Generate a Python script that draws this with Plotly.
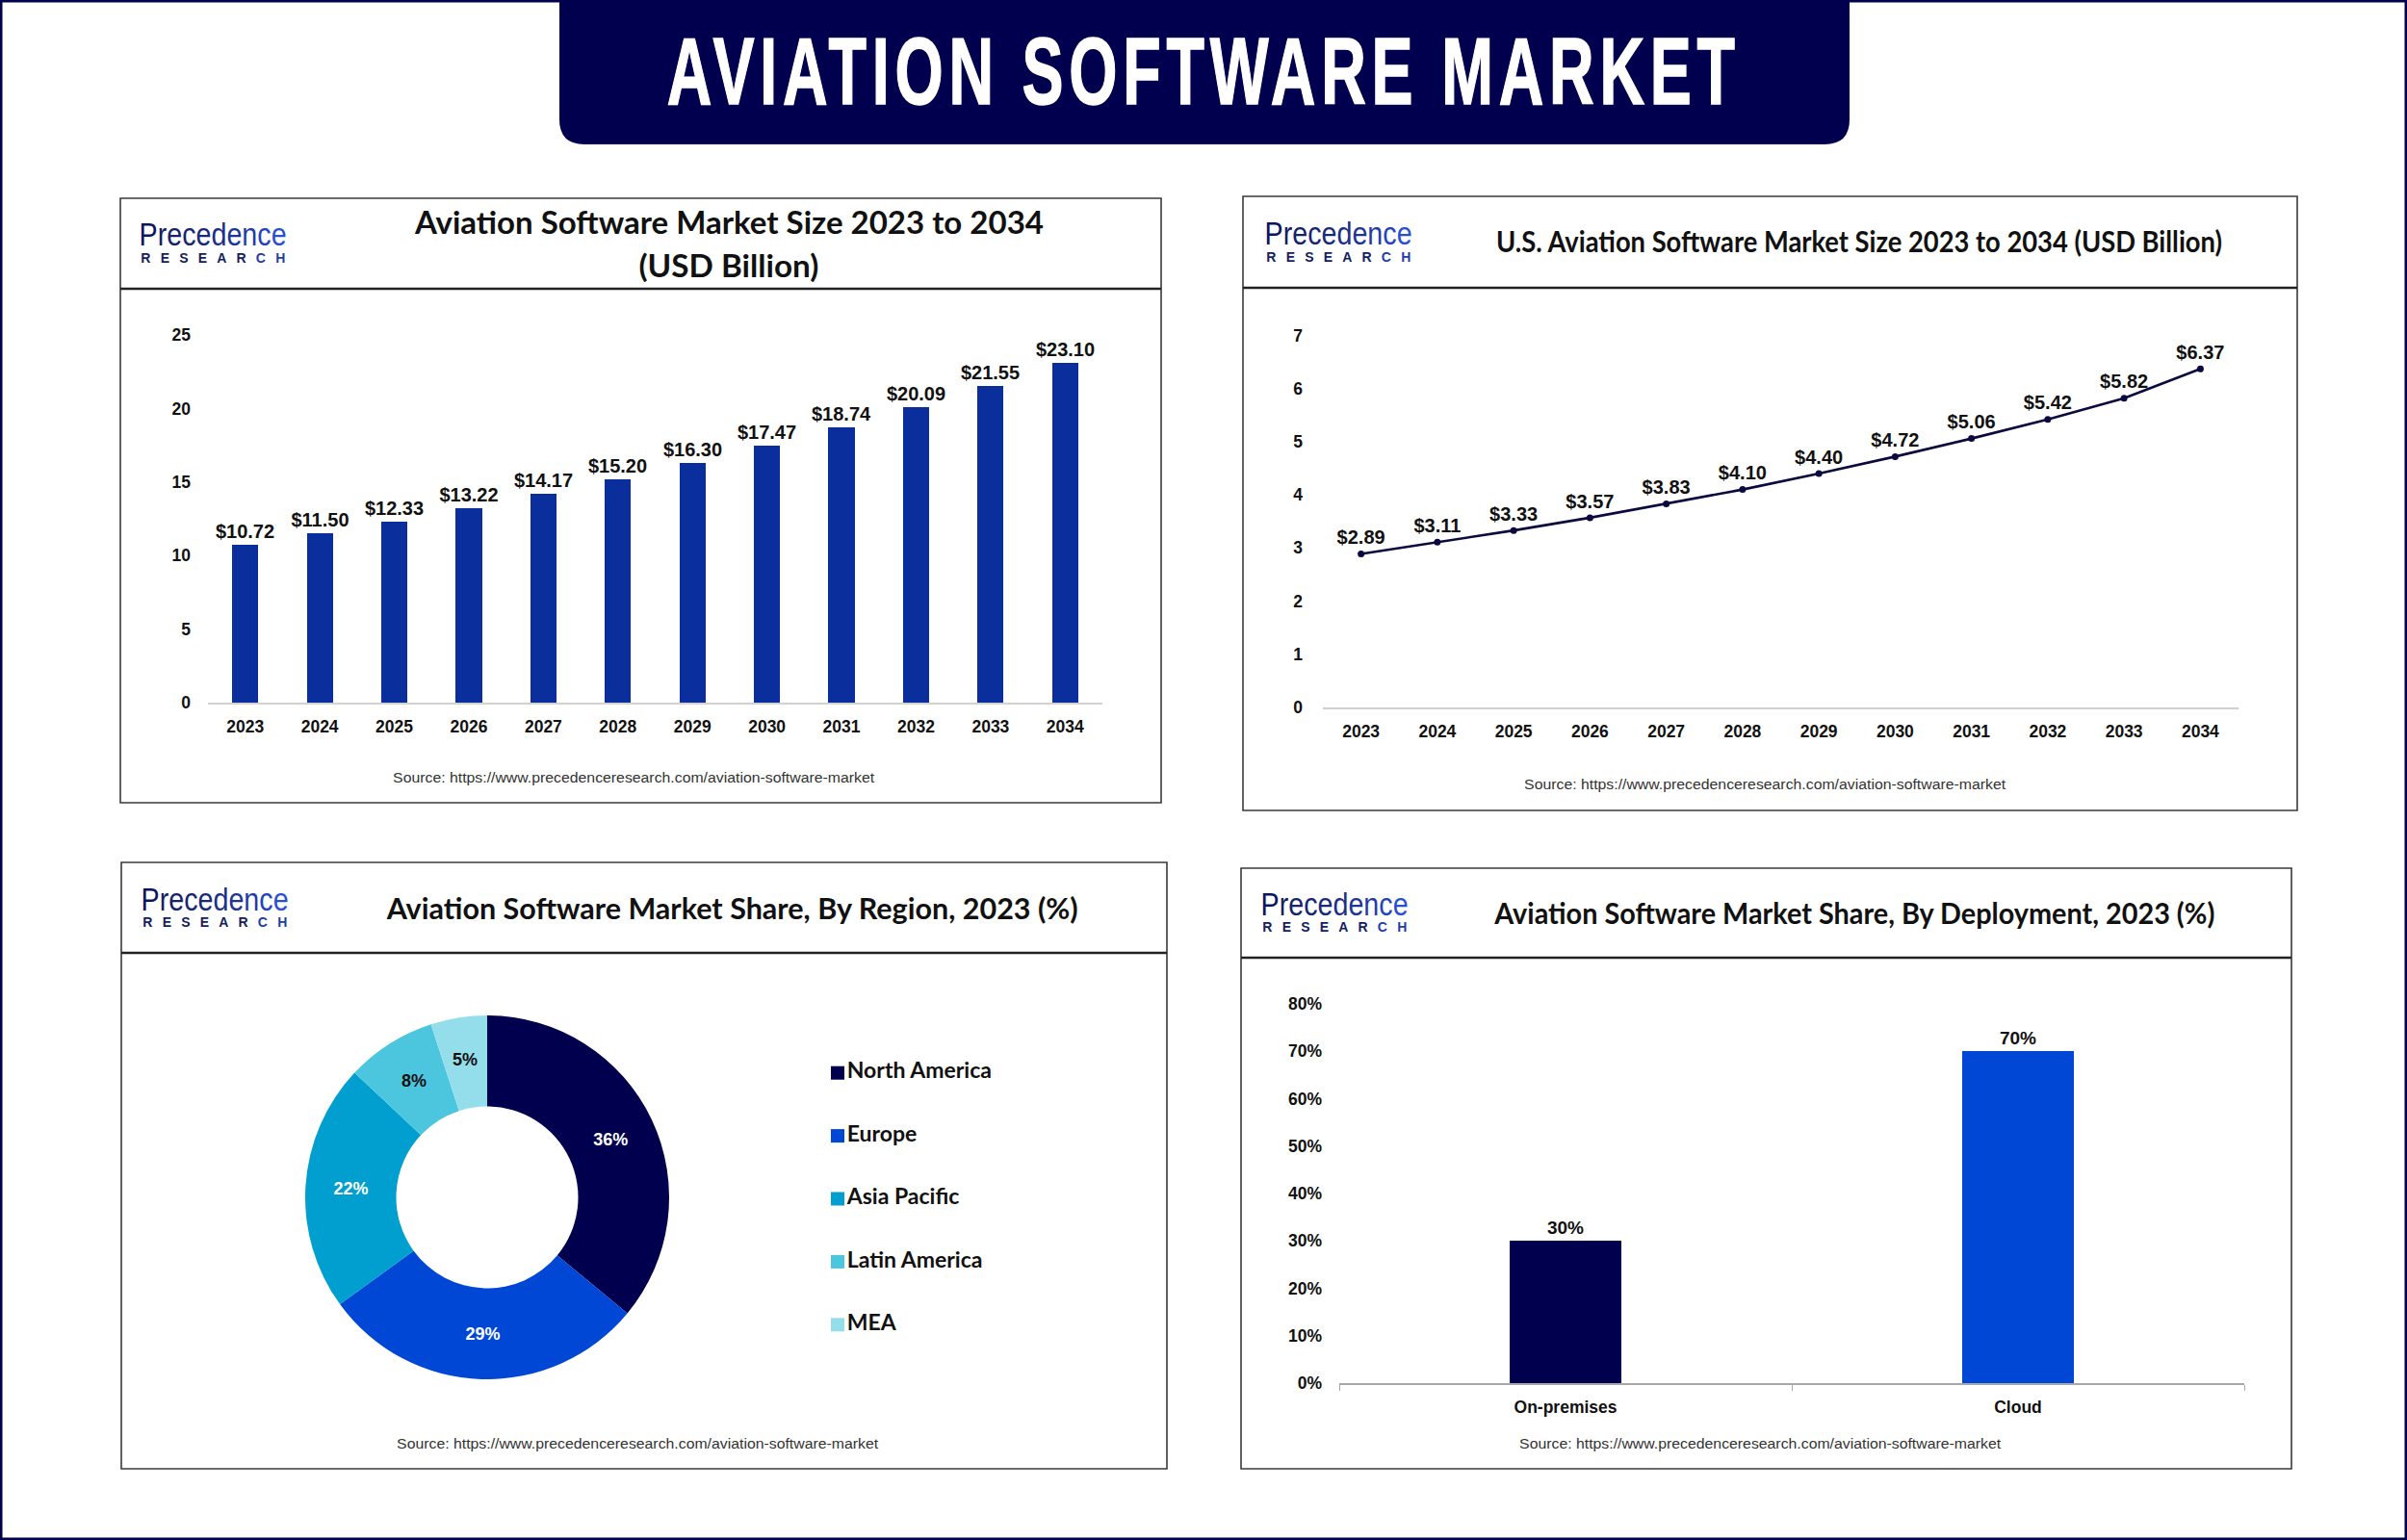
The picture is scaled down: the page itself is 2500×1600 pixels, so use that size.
import json
import plotly.graph_objects as go

# ---------- data ----------
years = ["2023", "2024", "2025", "2026", "2027", "2028", "2029", "2030", "2031", "2032", "2033", "2034"]
global_size = [10.72, 11.50, 12.33, 13.22, 14.17, 15.20, 16.30, 17.47, 18.74, 20.09, 21.55, 23.10]
us_size = [2.89, 3.11, 3.33, 3.57, 3.83, 4.10, 4.40, 4.72, 5.06, 5.42, 5.82, 6.37]
regions = ["North America", "Europe", "Asia Pacific", "Latin America", "MEA"]
region_share = [36, 29, 22, 8, 5]
deployments = ["On-premises", "Cloud"]
deployment_share = [30, 70]

MAIN_TITLE = "AVIATION SOFTWARE MARKET"
SOURCE = "Source: https://www.precedenceresearch.com/aviation-software-market"

# ---------- style ----------
W, H = 2500, 1600
NAVY = "#00004f"
BLUE = "#0047d6"
BAR = "#0a2f9c"
REGION_COLORS = [NAVY, BLUE, "#009fcf", "#4cc6df", "#94deeb"]
INK = "#111111"
SANS = "Liberation Sans"
TITLE_FONT = "Lato"
LOGO_COLORS = ["#0a1560", "#141f64", "#15226c", "#172672", "#182a7a", "#1a2f88", "#1c3596", "#1f3ca8", "#2444bc", "#2a4fd0"]
LOGO_WORD = "Precedence"


def fx(px):
    return px / W


def fy(py):
    return 1 - py / H


fig = go.Figure()
shapes, annos = [], []


def text(x, y, s, size, family=SANS, color=INK, bold=True):
    annos.append(dict(xref="paper", yref="paper", x=fx(x), y=fy(y), text=f"<b>{s}</b>" if bold else s,
                      showarrow=False, xanchor="center", yanchor="middle",
                      font=dict(family=family, size=size, color=color)))


def panel(x0, y0, x1, y1, head):
    shapes.append(dict(type="rect", xref="paper", yref="paper", x0=fx(x0), x1=fx(x1), y0=fy(y0), y1=fy(y1),
                       line=dict(color="#3a3a3a", width=1.6), fillcolor="rgba(0,0,0,0)", layer="below"))
    shapes.append(dict(type="line", xref="paper", yref="paper", x0=fx(x0), x1=fx(x1), y0=fy(head), y1=fy(head),
                       line=dict(color="#222222", width=2.4), layer="below"))


def logo(cx, y_top, y_bottom):
    word = "".join(f'<span style="color:{c}">{ch}</span>' for ch, c in zip(LOGO_WORD, LOGO_COLORS))
    annos.append(dict(xref="paper", yref="paper", x=fx(cx), y=fy(y_top), text=word, showarrow=False,
                      xanchor="center", yanchor="middle",
                      font=dict(family=SANS, size=33, color="#10206e")))
    research = '<b>RESEAR<span style="color:#1f3ca8">CH</span></b>'
    annos.append(dict(xref="paper", yref="paper", x=fx(cx), y=fy(y_bottom), text=research, showarrow=False,
                      xanchor="center", yanchor="middle",
                      font=dict(family=SANS, size=14, color="#14205e")))


# ---------- frame and banner ----------
shapes.append(dict(type="rect", xref="paper", yref="paper", x0=0, x1=1, y0=0, y1=1,
                   line=dict(color=NAVY, width=5), fillcolor="white", layer="below"))
bx0, bx1, by, br = 581, 1921, 150, 26
shapes.append(dict(type="path", xref="paper", yref="paper", fillcolor=NAVY, line=dict(width=0), layer="below",
                   path=(f"M {fx(bx0)} {fy(0)} L {fx(bx0)} {fy(by - br)} Q {fx(bx0)} {fy(by)} {fx(bx0 + br)} {fy(by)} "
                         f"L {fx(bx1 - br)} {fy(by)} Q {fx(bx1)} {fy(by)} {fx(bx1)} {fy(by - br)} L {fx(bx1)} {fy(0)} Z")))
text(1250, 74, MAIN_TITLE, 98, color="white")

# ---------- panels ----------
panel(125, 206, 1206, 834, 300)
panel(1291, 204, 2386, 842, 299)
panel(126, 896, 1212, 1526, 990)
panel(1289, 902, 2380, 1526, 995)

logo(221, 244, 268)
logo(1390, 242, 267)
logo(223, 934, 958)
logo(1386, 939, 963)

text(757, 230.5, "Aviation Software Market Size 2023 to 2034", 32, TITLE_FONT)
text(757, 275.5, "(USD Billion)", 32, TITLE_FONT)
text(1931, 250.5, "U.S. Aviation Software Market Size 2023 to 2034 (USD Billion)", 30, TITLE_FONT)
text(760, 942.5, "Aviation Software Market Share, By Region, 2023 (%)", 31, TITLE_FONT)
text(1926, 947.5, "Aviation Software Market Share, By Deployment, 2023 (%)", 30, TITLE_FONT)

text(658, 807.5, SOURCE, 15.5, bold=False, color="#333333")
text(1833, 814.5, SOURCE, 15.5, bold=False, color="#333333")
text(662, 1499.5, SOURCE, 15.5, bold=False, color="#333333")
text(1828, 1499.5, SOURCE, 15.5, bold=False, color="#333333")

# the two narrow donut slices keep their labels inside the ring at its middle radius
text(429.5, 1122.6, f"{region_share[3]}%", 18)
text(483.5, 1101, f"{region_share[4]}%", 18)

TICK = dict(family=SANS, size=17.5, color=INK)
LABEL = dict(family=SANS, size=20, color=INK)


def bold_labels(values, template):
    return [("<b>" + template.format(v) + "</b>") for v in values]


# ---------- chart 1: bars ----------
fig.add_trace(go.Bar(x=years, y=global_size, marker=dict(color=BAR, line=dict(width=0)), width=0.35,
                     xaxis="x", yaxis="y", text=bold_labels(global_size, "${:.2f}"), textposition="outside",
                     constraintext="none", cliponaxis=False, textfont=LABEL, showlegend=False))
# ---------- chart 2: line ----------
fig.add_trace(go.Scatter(x=years, y=us_size, mode="lines+markers+text", xaxis="x2", yaxis="y2",
                         line=dict(color="#0a0a40", width=2.6), marker=dict(color="#0a0a40", size=7),
                         text=bold_labels(us_size, "${:.2f}"), textposition="top center", cliponaxis=False,
                         textfont=LABEL, showlegend=False))
# ---------- chart 3: donut ----------
big_slice_labels = [f"<b>{v}%</b>" if v > 10 else "" for v in region_share]
fig.add_trace(go.Pie(labels=regions, values=region_share, hole=0.5, sort=False, direction="clockwise", rotation=0,
                     marker=dict(colors=REGION_COLORS, line=dict(width=0)),
                     text=big_slice_labels, textinfo="text", textposition="inside", insidetextorientation="horizontal",
                     insidetextfont=dict(family=SANS, size=18, color="white"), showlegend=False,
                     domain=dict(x=[fx(506 - 189), fx(506 + 189)], y=[fy(1244 + 189), fy(1244 - 189)])))
# legend of the donut, drawn as a small marker-and-text trace
fig.add_trace(go.Scatter(x=[0] * len(regions), y=regions, mode="markers+text", xaxis="x5", yaxis="y5",
                         marker=dict(symbol="square", size=14, color=REGION_COLORS),
                         text=["<b>" + r + "</b>" for r in regions], textposition="middle right",
                         textfont=dict(family=TITLE_FONT, size=23, color=INK), cliponaxis=False, showlegend=False))
# ---------- chart 4: bars ----------
fig.add_trace(go.Bar(x=deployments, y=deployment_share, marker=dict(color=[NAVY, BLUE], line=dict(width=0)), width=0.247,
                     xaxis="x3", yaxis="y3", text=bold_labels(deployment_share, "{}%"), textposition="outside",
                     constraintext="none", cliponaxis=False, textfont=dict(family=SANS, size=19, color=INK),
                     showlegend=False))


def cat_axis(x0, x1, color, n, anchor):
    return dict(domain=[fx(x0), fx(x1)], type="category", range=[-0.5, n - 0.5], showgrid=False, showline=True,
                linecolor=color, linewidth=2, zeroline=False, tickfont=TICK, tickprefix="<b>", ticksuffix="</b>",
                ticks="", ticklabelstandoff=8, automargin=False, anchor=anchor)


def val_axis(y0, y1, rng, dtick, standoff, anchor, suffix="</b>"):
    return dict(domain=[fy(y0), fy(y1)], range=rng, dtick=dtick, showgrid=False, showline=False, zeroline=False,
                tickfont=TICK, ticks="", ticklabelstandoff=standoff, automargin=False, anchor=anchor,
                tickprefix="<b>", ticksuffix=suffix)


fig.update_layout(
    template="none",
    width=W, height=H, margin=dict(l=0, r=0, t=0, b=0, pad=0), autosize=False,
    paper_bgcolor="white", plot_bgcolor="rgba(0,0,0,0)", bargap=0, showlegend=False,
    shapes=shapes, annotations=annos,
    xaxis=cat_axis(216, 1145, "#d2d2d2", len(years), "y"),
    yaxis=val_axis(730, 348, [0, 25], 5, 17, "x"),
    xaxis2=cat_axis(1374, 2325, "#cfcfcf", len(years), "y2"),
    yaxis2=val_axis(735, 348.5, [0, 7], 1, 20, "x2"),
    xaxis3=dict(domain=[fx(1391), fx(2331)], type="category", range=[-0.5, 1.5], showgrid=False, showline=True,
                linecolor="#a8a8a8", linewidth=2, tickfont=TICK, tickprefix="<b>", ticksuffix="</b>", ticks="outside",
                ticklen=6, tickcolor="#a8a8a8", tickson="boundaries", ticklabelstandoff=8, automargin=False, anchor="y3"),
    yaxis3=val_axis(1437, 1043, [0, 80], 10, 17, "x3", suffix="%</b>"),
    xaxis5=dict(domain=[fx(860), fx(880)], range=[-1, 1], visible=False, anchor="y5"),
    yaxis5=dict(domain=[fy(1409), fy(1082)], type="category", range=[4.5, -0.5], visible=False, anchor="x5"),
)

# The reference is squeezed horizontally: fit each text to its measured width.
fit_glyphs = {
    MAIN_TITLE: 1115,
    "Aviation Software Market Size 2023 to 2034": 653,
    "(USD Billion)": 187,
    "U.S. Aviation Software Market Size 2023 to 2034 (USD Billion)": 754,
    "Aviation Software Market Share, By Region, 2023 (%)": 718,
    "Aviation Software Market Share, By Deployment, 2023 (%)": 748,
    "Precedence": 153,
    SOURCE: 500,
}
fit_spacing = {"RESEARCH": 150}

post = """
document.body.style.margin = '0';
document.body.style.overflow = 'hidden';
var glyphs = %s, spacing = %s, title = %s;
document.querySelectorAll('text.annotation-text').forEach(function (t) {
  var s = t.textContent;
  if (s === title) {
    t.style.letterSpacing = '0.09em';
    t.style.stroke = 'white';
    t.style.strokeWidth = '1.5px';
  }
  if (glyphs[s]) { t.setAttribute('textLength', glyphs[s]); t.setAttribute('lengthAdjust', 'spacingAndGlyphs'); }
  if (spacing[s]) { t.setAttribute('textLength', spacing[s]); t.setAttribute('lengthAdjust', 'spacing'); }
});
""" % (json.dumps(fit_glyphs), json.dumps(fit_spacing), json.dumps(MAIN_TITLE))

fig.write_html("out.html", post_script=post, config={"displayModeBar": False})
